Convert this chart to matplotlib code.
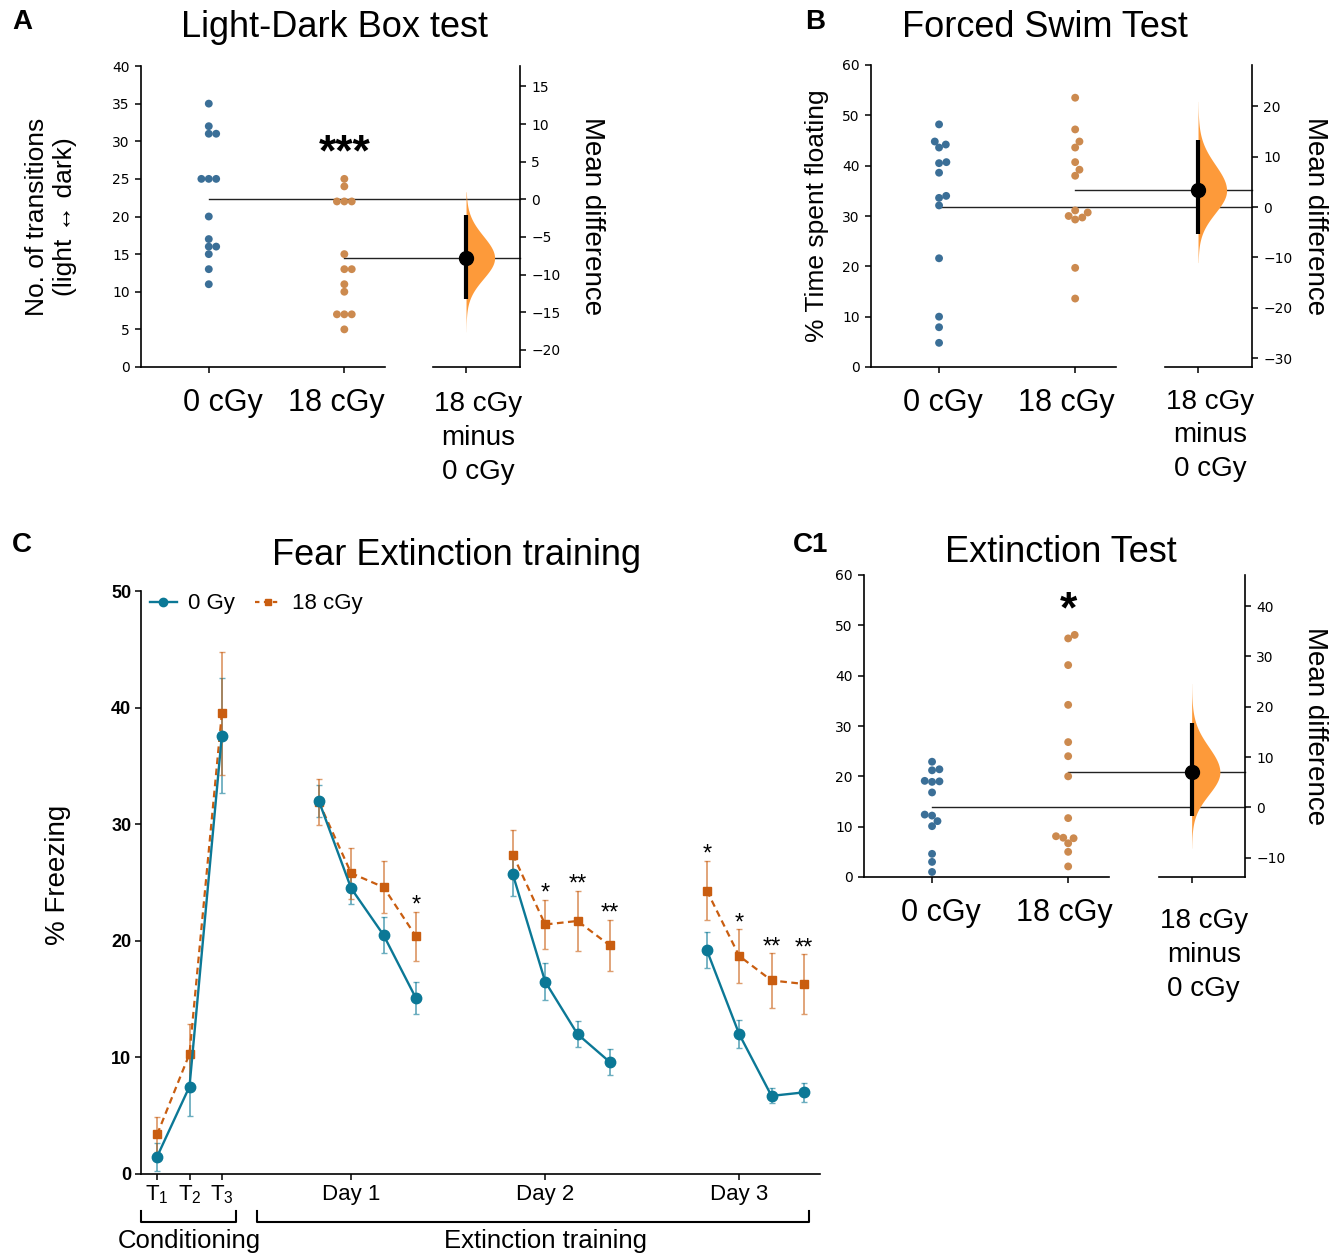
import math
import numpy as np
import matplotlib
matplotlib.use("Agg")
import matplotlib.pyplot as plt
from matplotlib.lines import Line2D
from matplotlib.transforms import blended_transform_factory

plt.rcParams["font.family"] = ["Liberation Sans", "DejaVu Sans"]
plt.rcParams["mathtext.fontset"] = "custom"
plt.rcParams["mathtext.rm"] = "Liberation Sans"
plt.rcParams["mathtext.it"] = "Liberation Sans:italic"
plt.rcParams["axes.linewidth"] = 1.2

# ---- data ----
# A: light-dark box, number of transitions
ld_ctrl = [35, 32, 31, 31, 25, 25, 25, 20, 17, 16, 16, 15, 13, 11]
ld_irr = [25, 24, 22, 22, 22, 15, 13, 13, 11, 10, 7, 7, 7, 5]
ld_ci = (-13.2, -2.1)
ld_tails = (-17.6, 1.0)

# B: forced swim, % time floating
fs_ctrl = [48.2, 44.8, 44.2, 43.6, 40.7, 40.5, 38.6, 34.0, 33.6, 32.1, 21.6, 10.0, 7.9, 4.8]
fs_irr = [53.5, 47.2, 44.8, 43.6, 40.7, 39.2, 38.0, 31.1, 30.7, 30.0, 29.7, 29.3, 19.7, 13.6]
fs_ci = (-5.4, 13.3)
fs_tails = (-11.0, 21.0)

# C1: extinction test, % freezing
et_ctrl = [22.9, 21.4, 21.2, 19.1, 19.0, 18.9, 16.8, 12.4, 12.2, 11.1, 10.1, 4.6, 3.0, 1.0]
et_irr = [48.1, 47.4, 42.1, 34.2, 26.8, 24.0, 20.0, 11.7, 8.1, 7.8, 7.7, 6.7, 5.0, 2.1]
et_ci = (-1.7, 16.8)
et_tails = (-8.1, 24.6)

groups = ["0 cGy", "18 cGy"]
contrast = "18 cGy\nminus\n0 cGy"

# C: fear extinction training
sess_x = [1, 2, 3, 6, 7, 8, 9, 12, 13, 14, 15, 18, 19, 20, 21]
blocks = [(0, 3), (3, 7), (7, 11), (11, 15)]
ctrl_mean = [1.5, 7.5, 37.6, 32.0, 24.5, 20.5, 15.1, 25.7, 16.5, 12.0, 9.6, 19.2, 12.0, 6.7, 7.0]
ctrl_sem = [1.2, 2.5, 4.9, 1.4, 1.35, 1.55, 1.4, 1.85, 1.6, 1.1, 1.15, 1.55, 1.2, 0.65, 0.8]
irr_mean = [3.4, 10.3, 39.5, 31.9, 25.8, 24.6, 20.4, 27.4, 21.4, 21.7, 19.6, 24.3, 18.7, 16.6, 16.3]
irr_sem = [1.5, 2.6, 5.3, 2.0, 2.2, 2.25, 2.1, 2.1, 2.1, 2.6, 2.2, 2.55, 2.3, 2.35, 2.55]
sig = ["", "", "", "", "", "", "*", "", "*", "**", "**", "*", "*", "**", "**"]
xtick_pos = [1, 2, 3, 7, 13, 19]
xtick_lab = [r"$\mathrm{T}_1$", r"$\mathrm{T}_2$", r"$\mathrm{T}_3$", "Day 1", "Day 2", "Day 3"]

BLUE = "#3b6f97"
ORANGE = "#cc8a4f"
VIOLIN = "#fd9a3a"
TEAL = "#0b7896"
RUST = "#c95d10"

W, H = 1344, 1256
fig = plt.figure(figsize=(W / 100, H / 100), dpi=100)


def box(l, t, r, b):
    return [l / W, 1 - b / H, (r - l) / W, (b - t) / H]


def swarm(vals, d, ppy):
    # simple beeswarm: offsets in pixels
    order = sorted(range(len(vals)), key=lambda i: vals[i])
    placed = []
    out = [0.0] * len(vals)
    for i in order:
        y = vals[i] * ppy
        near = [(qx, qy) for qx, qy in placed if abs(qy - y) < d]
        cands = [0.0]
        for qx, qy in near:
            dx = math.sqrt(d ** 2 - (qy - y) ** 2)
            cands += [qx - dx, qx + dx]
        cands.sort(key=lambda c: (round(abs(c), 3), -c))
        for c in cands:
            if all((c - qx) ** 2 + (y - qy) ** 2 >= d ** 2 - 1e-6 for qx, qy in near):
                break
        placed.append((c, y))
        out[i] = c
    return out


def estimation(raw_px, diff_px, ctrl, irr, ci, tails, ymax, yticks, dticks,
               ylabel, ylab_x, rlab_x, lab_shift, contrast_y):
    ax = fig.add_axes(box(*raw_px))
    axd = fig.add_axes(box(*diff_px))
    axd.patch.set_visible(False)
    ppx = (raw_px[2] - raw_px[0]) / 1.8
    ppy = (raw_px[3] - raw_px[1]) / ymax
    for i, (vals, col) in enumerate([(ctrl, BLUE), (irr, ORANGE)]):
        offs = swarm(vals, 7.4, ppy)
        ax.scatter([i + o / ppx for o in offs], vals, s=32, color=col,
                   edgecolor="none", zorder=3, clip_on=False)
    m0, m1 = float(np.mean(ctrl)), float(np.mean(irr))
    diff = m1 - m0

    # reference lines running out to the right spine
    trans = blended_transform_factory(fig.transFigure, ax.transData)
    right = diff_px[2] / W
    for gx, m in [(0, m0), (1, m1)]:
        fx = (raw_px[0] + (gx + 0.5) * ppx) / W
        ax.add_line(Line2D([fx, right], [m, m], transform=trans, color="#222222",
                           lw=1.0, clip_on=False))

    # bootstrap-like half violin
    sd_lo = (diff - ci[0]) / 1.96
    sd_hi = (ci[1] - diff) / 1.96
    yy = np.linspace(tails[0], tails[1], 400)
    sd = np.where(yy < diff, sd_lo, sd_hi)
    dens = np.exp(-0.5 * ((yy - diff) / sd) ** 2)
    axd.fill_betweenx(yy, 0, 0.21 * dens, color=VIOLIN, lw=0, zorder=1)
    axd.plot([0, 0], ci, color="k", lw=3.0, solid_capstyle="butt", zorder=3)
    axd.plot([0], [diff], "o", color="k", ms=10, zorder=4)

    ax.set_xlim(-0.5, 1.3)
    ax.set_ylim(0, ymax)
    axd.set_xlim(-0.243, 0.397)
    axd.set_ylim(-m0, ymax - m0)

    for s in ["top", "right"]:
        ax.spines[s].set_visible(False)
    for s in ["top", "left"]:
        axd.spines[s].set_visible(False)
    axd.yaxis.tick_right()
    ax.set_yticks(yticks)
    axd.set_yticks(dticks)
    ax.set_xticks([0, 1])
    ax.set_xticklabels(["", ""])
    axd.set_xticks([0])
    axd.set_xticklabels([""])
    tr = blended_transform_factory(ax.transData, ax.transAxes)
    for gx, (name, sh) in enumerate(zip(groups, lab_shift)):
        ax.text(gx + sh / ppx, -0.07, name, transform=tr, ha="center", va="top",
                fontsize=22)
    axd.text(0.09, contrast_y, contrast, transform=blended_transform_factory(
        axd.transData, axd.transAxes), ha="center", va="top", fontsize=20, linespacing=1.38)
    for a in (ax, axd):
        a.tick_params(length=4, width=1.1, pad=4)
        plt.setp(a.get_yticklabels(), family="DejaVu Sans", fontsize=10)
    ax.text(ylab_x, 0.5, ylabel, transform=ax.transAxes, rotation=90,
            ha="center", va="center", fontsize=19)
    axd.text(rlab_x, 0.5, "Mean difference", transform=axd.transAxes, rotation=270,
             ha="center", va="center", fontsize=20)
    return ax, axd


# ---- A ----
axA, _ = estimation((141, 66, 385, 367), (433, 66, 520, 367), ld_ctrl, ld_irr, ld_ci,
                    ld_tails, 40, range(0, 41, 5), range(-20, 16, 5),
                    "No. of transitions\n(light \u2194 dark)", -0.37, 1.83,
                    (14, -8), -0.081)
axA.text(1, 26.8, "***", ha="center", va="baseline", fontsize=32, fontweight="bold")

# ---- B ----
estimation((871, 65, 1116, 367), (1165, 65, 1252, 367), fs_ctrl, fs_irr, fs_ci,
           fs_tails, 60, range(0, 61, 10), range(-30, 21, 10),
           "% Time spent floating", -0.22, 1.72, (4, -9), -0.072)

# ---- C1 ----
axC1, _ = estimation((864, 575, 1109, 877), (1159, 575, 1245, 877), et_ctrl, et_irr, et_ci,
                     et_tails, 60, range(0, 61, 10), range(-10, 41, 10),
                     "% Freezing", -0.265, 1.81, (9, -4), -0.104)
axC1.text(1, 50.6, "*", ha="center", va="baseline", fontsize=32, fontweight="bold")

# ---- C ----
axc = fig.add_axes(box(141, 591, 820, 1174))
for a, b in blocks:
    xs = sess_x[a:b]
    axc.errorbar(xs, ctrl_mean[a:b], yerr=ctrl_sem[a:b], fmt="none", ecolor=TEAL,
                 alpha=0.6, elinewidth=1.3, capsize=2, zorder=2)
    axc.errorbar(xs, irr_mean[a:b], yerr=irr_sem[a:b], fmt="none", ecolor=RUST,
                 alpha=0.6, elinewidth=1.3, capsize=2, zorder=2)
    axc.plot(xs, irr_mean[a:b], color=RUST, ls=(0, (3, 2)), lw=1.6, marker="s",
             ms=6, zorder=3)
    axc.plot(xs, ctrl_mean[a:b], color=TEAL, lw=1.7, marker="o", ms=7.5, zorder=4)

for i, s in enumerate(sig):
    if s:
        axc.text(sess_x[i], irr_mean[i] + irr_sem[i], s, ha="center", va="baseline",
                 fontsize=17)

axc.set_xlim(0.5, 21.5)
axc.set_ylim(0, 50)
axc.set_yticks(range(0, 51, 10))
axc.set_yticklabels([str(v) for v in range(0, 51, 10)], fontsize=13, fontweight="bold")
axc.set_xticks(xtick_pos)
axc.set_xticklabels(xtick_lab, fontsize=16)
axc.tick_params(length=4, width=1.1, pad=3)
for s in ["top", "right"]:
    axc.spines[s].set_visible(False)
axc.text(-0.122, 0.513, "% Freezing", transform=axc.transAxes, rotation=90,
         ha="center", va="center", fontsize=20)

handles = [Line2D([], [], color=TEAL, lw=1.7, marker="o", ms=6),
           Line2D([], [], color=RUST, lw=1.6, ls=(0, (2, 2)), marker="s", ms=5)]
axc.legend(handles, ["0 Gy", "18 cGy"], loc="upper left", bbox_to_anchor=(0.0, 1.011),
           ncol=2, frameon=False, fontsize=16, handlelength=1.2, columnspacing=0.9,
           borderaxespad=0, handletextpad=0.5)

tr = blended_transform_factory(axc.transData, axc.transAxes)
for x0, x1, xl, label in [(0.5, 3.45, 2.0, "Conditioning"),
                          (4.1, 21.15, 13.0, "Extinction training")]:
    axc.add_line(Line2D([x0, x0, x1, x1], [-0.063, -0.082, -0.082, -0.063], transform=tr,
                        color="k", lw=1.5, clip_on=False))
    axc.text(xl, -0.115, label, transform=tr, ha="center", va="center", fontsize=18.5)

# ---- titles and panel letters ----
fig.text(0.249, 0.978, "Light-Dark Box test", ha="center", va="center", fontsize=26)
fig.text(0.7775, 0.9785, "Forced Swim Test", ha="center", va="center", fontsize=26)
fig.text(0.340, 0.558, "Fear Extinction training", ha="center", va="center", fontsize=26)
fig.text(0.789, 0.5605, "Extinction Test", ha="center", va="center", fontsize=26)
for x, y, lab in [(0.009, 0.9825, "A"), (0.599, 0.9825, "B"),
                  (0.009, 0.566, "C"), (0.59, 0.566, "C1")]:
    fig.text(x, y, lab, ha="left", va="center", fontsize=20, fontweight="bold")

fig.savefig("out.png", dpi=100)
